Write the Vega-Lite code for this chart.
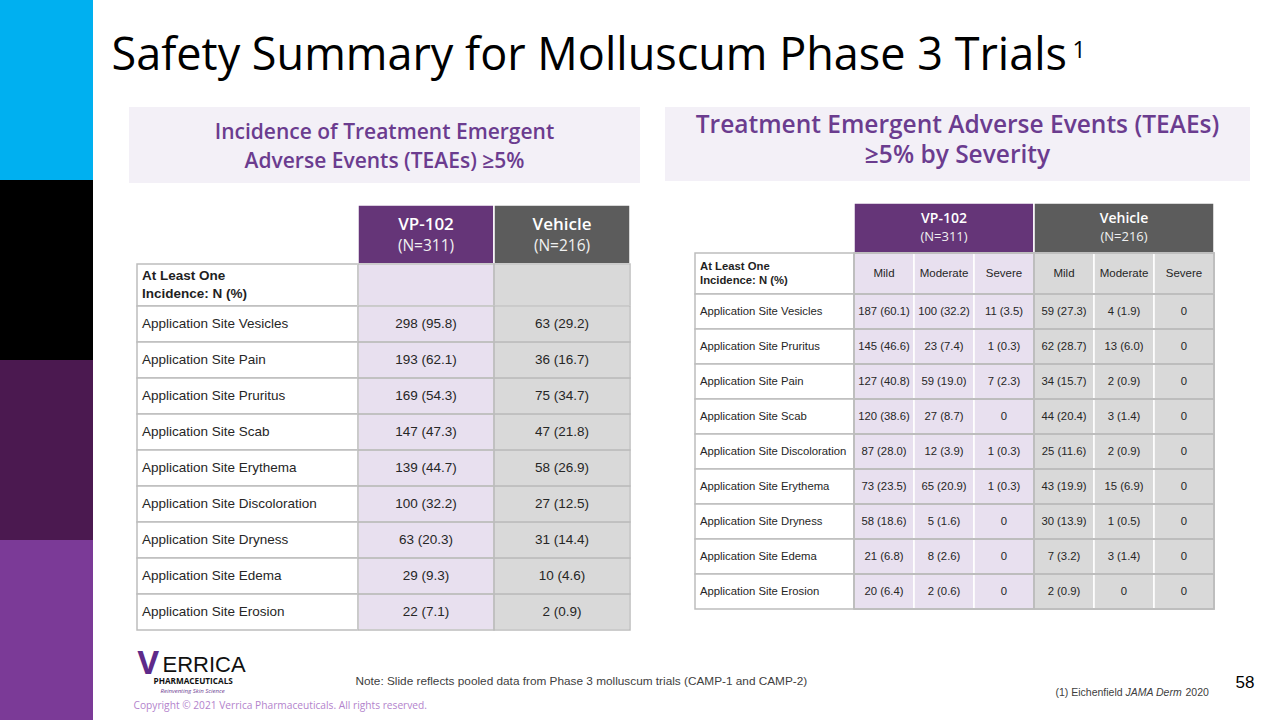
{
 "$schema": "https://vega.github.io/schema/vega-lite/v6.json",
 "width": 1280, "height": 720, "padding": 0, "autosize": {"type": "none"},
 "background": "#ffffff",
 "config": {
  "view": {"stroke": null},
  "axis": {"disable": true},
  "legend": {"disable": true},
  "scale": {"bandPaddingInner": 0, "bandPaddingOuter": 0, "rectBandPaddingInner": 0, "bandWithNestedOffsetPaddingInner": 0, "bandWithNestedOffsetPaddingOuter": 0, "offsetBandPaddingInner": 0, "offsetBandPaddingOuter": 0}
 },
 "datasets": {
  "arms": [{"group": "VP-102", "n": "(N=311)"}, {"group": "Vehicle", "n": "(N=216)"}],
  "incidence": [
   {"event": "Application Site Vesicles", "group": "VP-102", "value": "298 (95.8)"}, {"event": "Application Site Vesicles", "group": "Vehicle", "value": "63 (29.2)"},
   {"event": "Application Site Pain", "group": "VP-102", "value": "193 (62.1)"}, {"event": "Application Site Pain", "group": "Vehicle", "value": "36 (16.7)"},
   {"event": "Application Site Pruritus", "group": "VP-102", "value": "169 (54.3)"}, {"event": "Application Site Pruritus", "group": "Vehicle", "value": "75 (34.7)"},
   {"event": "Application Site Scab", "group": "VP-102", "value": "147 (47.3)"}, {"event": "Application Site Scab", "group": "Vehicle", "value": "47 (21.8)"},
   {"event": "Application Site Erythema", "group": "VP-102", "value": "139 (44.7)"}, {"event": "Application Site Erythema", "group": "Vehicle", "value": "58 (26.9)"},
   {"event": "Application Site Discoloration", "group": "VP-102", "value": "100 (32.2)"}, {"event": "Application Site Discoloration", "group": "Vehicle", "value": "27 (12.5)"},
   {"event": "Application Site Dryness", "group": "VP-102", "value": "63 (20.3)"}, {"event": "Application Site Dryness", "group": "Vehicle", "value": "31 (14.4)"},
   {"event": "Application Site Edema", "group": "VP-102", "value": "29 (9.3)"}, {"event": "Application Site Edema", "group": "Vehicle", "value": "10 (4.6)"},
   {"event": "Application Site Erosion", "group": "VP-102", "value": "22 (7.1)"}, {"event": "Application Site Erosion", "group": "Vehicle", "value": "2 (0.9)"}
  ],
  "severity": [
   {"event": "Application Site Vesicles", "group": "VP-102", "severity": "Mild", "value": "187 (60.1)"},
   {"event": "Application Site Vesicles", "group": "VP-102", "severity": "Moderate", "value": "100 (32.2)"},
   {"event": "Application Site Vesicles", "group": "VP-102", "severity": "Severe", "value": "11 (3.5)"},
   {"event": "Application Site Vesicles", "group": "Vehicle", "severity": "Mild", "value": "59 (27.3)"},
   {"event": "Application Site Vesicles", "group": "Vehicle", "severity": "Moderate", "value": "4 (1.9)"},
   {"event": "Application Site Vesicles", "group": "Vehicle", "severity": "Severe", "value": "0"},
   {"event": "Application Site Pruritus", "group": "VP-102", "severity": "Mild", "value": "145 (46.6)"},
   {"event": "Application Site Pruritus", "group": "VP-102", "severity": "Moderate", "value": "23 (7.4)"},
   {"event": "Application Site Pruritus", "group": "VP-102", "severity": "Severe", "value": "1 (0.3)"},
   {"event": "Application Site Pruritus", "group": "Vehicle", "severity": "Mild", "value": "62 (28.7)"},
   {"event": "Application Site Pruritus", "group": "Vehicle", "severity": "Moderate", "value": "13 (6.0)"},
   {"event": "Application Site Pruritus", "group": "Vehicle", "severity": "Severe", "value": "0"},
   {"event": "Application Site Pain", "group": "VP-102", "severity": "Mild", "value": "127 (40.8)"},
   {"event": "Application Site Pain", "group": "VP-102", "severity": "Moderate", "value": "59 (19.0)"},
   {"event": "Application Site Pain", "group": "VP-102", "severity": "Severe", "value": "7 (2.3)"},
   {"event": "Application Site Pain", "group": "Vehicle", "severity": "Mild", "value": "34 (15.7)"},
   {"event": "Application Site Pain", "group": "Vehicle", "severity": "Moderate", "value": "2 (0.9)"},
   {"event": "Application Site Pain", "group": "Vehicle", "severity": "Severe", "value": "0"},
   {"event": "Application Site Scab", "group": "VP-102", "severity": "Mild", "value": "120 (38.6)"},
   {"event": "Application Site Scab", "group": "VP-102", "severity": "Moderate", "value": "27 (8.7)"},
   {"event": "Application Site Scab", "group": "VP-102", "severity": "Severe", "value": "0"},
   {"event": "Application Site Scab", "group": "Vehicle", "severity": "Mild", "value": "44 (20.4)"},
   {"event": "Application Site Scab", "group": "Vehicle", "severity": "Moderate", "value": "3 (1.4)"},
   {"event": "Application Site Scab", "group": "Vehicle", "severity": "Severe", "value": "0"},
   {"event": "Application Site Discoloration", "group": "VP-102", "severity": "Mild", "value": "87 (28.0)"},
   {"event": "Application Site Discoloration", "group": "VP-102", "severity": "Moderate", "value": "12 (3.9)"},
   {"event": "Application Site Discoloration", "group": "VP-102", "severity": "Severe", "value": "1 (0.3)"},
   {"event": "Application Site Discoloration", "group": "Vehicle", "severity": "Mild", "value": "25 (11.6)"},
   {"event": "Application Site Discoloration", "group": "Vehicle", "severity": "Moderate", "value": "2 (0.9)"},
   {"event": "Application Site Discoloration", "group": "Vehicle", "severity": "Severe", "value": "0"},
   {"event": "Application Site Erythema", "group": "VP-102", "severity": "Mild", "value": "73 (23.5)"},
   {"event": "Application Site Erythema", "group": "VP-102", "severity": "Moderate", "value": "65 (20.9)"},
   {"event": "Application Site Erythema", "group": "VP-102", "severity": "Severe", "value": "1 (0.3)"},
   {"event": "Application Site Erythema", "group": "Vehicle", "severity": "Mild", "value": "43 (19.9)"},
   {"event": "Application Site Erythema", "group": "Vehicle", "severity": "Moderate", "value": "15 (6.9)"},
   {"event": "Application Site Erythema", "group": "Vehicle", "severity": "Severe", "value": "0"},
   {"event": "Application Site Dryness", "group": "VP-102", "severity": "Mild", "value": "58 (18.6)"},
   {"event": "Application Site Dryness", "group": "VP-102", "severity": "Moderate", "value": "5 (1.6)"},
   {"event": "Application Site Dryness", "group": "VP-102", "severity": "Severe", "value": "0"},
   {"event": "Application Site Dryness", "group": "Vehicle", "severity": "Mild", "value": "30 (13.9)"},
   {"event": "Application Site Dryness", "group": "Vehicle", "severity": "Moderate", "value": "1 (0.5)"},
   {"event": "Application Site Dryness", "group": "Vehicle", "severity": "Severe", "value": "0"},
   {"event": "Application Site Edema", "group": "VP-102", "severity": "Mild", "value": "21 (6.8)"},
   {"event": "Application Site Edema", "group": "VP-102", "severity": "Moderate", "value": "8 (2.6)"},
   {"event": "Application Site Edema", "group": "VP-102", "severity": "Severe", "value": "0"},
   {"event": "Application Site Edema", "group": "Vehicle", "severity": "Mild", "value": "7 (3.2)"},
   {"event": "Application Site Edema", "group": "Vehicle", "severity": "Moderate", "value": "3 (1.4)"},
   {"event": "Application Site Edema", "group": "Vehicle", "severity": "Severe", "value": "0"},
   {"event": "Application Site Erosion", "group": "VP-102", "severity": "Mild", "value": "20 (6.4)"},
   {"event": "Application Site Erosion", "group": "VP-102", "severity": "Moderate", "value": "2 (0.6)"},
   {"event": "Application Site Erosion", "group": "VP-102", "severity": "Severe", "value": "0"},
   {"event": "Application Site Erosion", "group": "Vehicle", "severity": "Mild", "value": "2 (0.9)"},
   {"event": "Application Site Erosion", "group": "Vehicle", "severity": "Moderate", "value": "0"},
   {"event": "Application Site Erosion", "group": "Vehicle", "severity": "Severe", "value": "0"}
  ]
 },
 "resolve": {"scale": {"x": "independent", "y": "independent", "color": "independent", "strokeDash": "independent", "xOffset": "independent"}},
 "layer": [
  {
   "data": {"values": [{"strip": "brand", "block": "1"}, {"strip": "brand", "block": "2"}, {"strip": "brand", "block": "3"}, {"strip": "brand", "block": "4"}]},
   "mark": {"type": "rect"},
   "encoding": {
    "x": {"field": "strip", "type": "nominal", "scale": {"range": [0, 93]}},
    "y": {"field": "block", "type": "ordinal", "scale": {"range": [0, 720]}},
    "color": {"field": "block", "type": "ordinal", "scale": {"domain": ["1", "2", "3", "4"], "range": ["#00b0f0", "#000000", "#4b1950", "#7b3a97"]}}
   }
  },
  {
   "data": {"values": [{"title": "Safety Summary for Molluscum Phase 3 Trials"}]},
   "mark": {"type": "text", "align": "left", "baseline": "alphabetic", "font": "Open Sans", "fontSize": 45, "color": "#000000"},
   "encoding": {
    "text": {"field": "title"},
    "x": {"field": "title", "type": "nominal", "bandPosition": 0, "scale": {"range": [111, 112]}},
    "y": {"field": "title", "type": "nominal", "bandPosition": 0, "scale": {"range": [69, 70]}}
   }
  },
  {
   "data": {"values": [{"sup": "1"}]},
   "mark": {"type": "text", "align": "left", "baseline": "alphabetic", "font": "Open Sans", "fontSize": 23, "color": "#000000"},
   "encoding": {
    "text": {"field": "sup"},
    "x": {"field": "sup", "type": "nominal", "bandPosition": 0, "scale": {"range": [1072, 1073]}},
    "y": {"field": "sup", "type": "nominal", "bandPosition": 0, "scale": {"range": [57, 58]}}
   }
  },
  {
   "data": {"values": [{"heading": "Incidence of Treatment Emergent\nAdverse Events (TEAEs) ≥5%"}]},
   "encoding": {
    "x": {"field": "heading", "type": "nominal", "scale": {"range": [129, 640]}},
    "y": {"field": "heading", "type": "nominal", "scale": {"range": [107, 183]}}
   },
   "layer": [
    {"mark": {"type": "rect", "fill": "#f3f0f7"}},
    {"mark": {"type": "text", "lineBreak": "\n", "lineHeight": 29, "align": "center", "baseline": "middle", "dy": -12, "font": "Open Sans", "fontWeight": 600, "fontSize": 21, "color": "#6b3c8f"},
     "encoding": {"text": {"field": "heading"}, "x": {"field": "heading", "type": "nominal", "bandPosition": 0.5}, "y": {"field": "heading", "type": "nominal", "bandPosition": 0.5}}}
   ]
  },
  {
   "data": {"values": [{"heading": "Treatment Emergent Adverse Events (TEAEs)\n≥5% by Severity"}]},
   "encoding": {
    "x": {"field": "heading", "type": "nominal", "scale": {"range": [665, 1250]}},
    "y": {"field": "heading", "type": "nominal", "scale": {"range": [107, 181]}}
   },
   "layer": [
    {"mark": {"type": "rect", "fill": "#f3f0f7"}},
    {"mark": {"type": "text", "lineBreak": "\n", "lineHeight": 30, "align": "center", "baseline": "middle", "dy": -18, "font": "Open Sans", "fontWeight": 600, "fontSize": 24.5, "color": "#6b3c8f"},
     "encoding": {"text": {"field": "heading"}, "x": {"field": "heading", "type": "nominal", "bandPosition": 0.5}, "y": {"field": "heading", "type": "nominal", "bandPosition": 0.5}}}
   ]
  },
  {
   "data": {"name": "arms"},
   "encoding": {
    "x": {"field": "group", "type": "nominal", "scale": {"domain": ["VP-102", "Vehicle"], "range": [358, 630]}},
    "y": {"datum": "arm", "type": "nominal", "scale": {"range": [205, 264]}}
   },
   "layer": [
    {"mark": {"type": "rect", "stroke": "#ffffff", "strokeWidth": 1.5},
     "encoding": {"color": {"field": "group", "type": "nominal", "scale": {"domain": ["VP-102", "Vehicle"], "range": ["#653578", "#5c5c5c"]}}}},
    {"mark": {"type": "text", "dy": -10, "font": "Open Sans", "fontWeight": 600, "fontSize": 17, "color": "#ffffff"},
     "encoding": {"text": {"field": "group"}, "x": {"field": "group", "type": "nominal", "bandPosition": 0.5}, "y": {"datum": "arm", "type": "nominal", "bandPosition": 0.5}}},
    {"mark": {"type": "text", "dy": 11, "font": "Open Sans", "fontSize": 15.5, "color": "#f0f0f0"},
     "encoding": {"text": {"field": "n"}, "x": {"field": "group", "type": "nominal", "bandPosition": 0.5}, "y": {"datum": "arm", "type": "nominal", "bandPosition": 0.5}}}
   ]
  },
  {
   "data": {"values": [{"label": "At Least One\nIncidence: N (%)"}]},
   "encoding": {
    "x": {"field": "label", "type": "nominal", "scale": {"range": [137, 358]}},
    "y": {"field": "label", "type": "nominal", "scale": {"range": [264, 306]}}
   },
   "layer": [
    {"mark": {"type": "rect", "fill": "#ffffff", "stroke": "#bdbdbd", "strokeWidth": 1.5}},
    {"mark": {"type": "text", "align": "left", "baseline": "middle", "dx": 5, "dy": -9, "lineBreak": "\n", "lineHeight": 18, "font": "Liberation Sans, Arial, sans-serif", "fontWeight": "bold", "fontSize": 13.5, "color": "#1f1f1f"},
     "encoding": {"text": {"field": "label"}, "x": {"field": "label", "type": "nominal", "bandPosition": 0}, "y": {"field": "label", "type": "nominal", "bandPosition": 0.5}}}
   ]
  },
  {
   "data": {"name": "arms"},
   "encoding": {
    "x": {"field": "group", "type": "nominal", "scale": {"domain": ["VP-102", "Vehicle"], "range": [358, 630]}},
    "y": {"datum": "atleast", "type": "nominal", "scale": {"range": [264, 306]}}
   },
   "layer": [
    {"mark": {"type": "rect", "stroke": "#ffffff", "strokeWidth": 1.5},
     "encoding": {"color": {"field": "group", "type": "nominal", "scale": {"domain": ["VP-102", "Vehicle"], "range": ["#e8e0ef", "#d9d9d9"]}}}},
    {"mark": {"type": "rect", "filled": false, "stroke": "#bdbdbd", "strokeWidth": 1.5},
     "encoding": {"strokeDash": {"field": "group", "type": "nominal", "scale": {"domain": ["VP-102", "Vehicle"], "range": [[136, 42], [314, 42]]}}}}
   ]
  },
  {
   "data": {"name": "incidence"},
   "transform": [{"filter": "datum.group === 'VP-102'"}],
   "encoding": {
    "x": {"datum": "label", "type": "nominal", "scale": {"range": [137, 358]}},
    "y": {"field": "event", "type": "nominal", "sort": null, "scale": {"domain": ["Application Site Vesicles", "Application Site Pain", "Application Site Pruritus", "Application Site Scab", "Application Site Erythema", "Application Site Discoloration", "Application Site Dryness", "Application Site Edema", "Application Site Erosion"], "range": [306, 630]}}
   },
   "layer": [
    {"mark": {"type": "rect", "fill": "#ffffff", "stroke": "#bdbdbd", "strokeWidth": 1.5}},
    {"mark": {"type": "text", "align": "left", "baseline": "middle", "dx": 5, "font": "Liberation Sans, Arial, sans-serif", "fontSize": 13.5, "color": "#262626"},
     "encoding": {"text": {"field": "event"}, "x": {"datum": "label", "type": "nominal", "bandPosition": 0}, "y": {"field": "event", "type": "nominal", "bandPosition": 0.5}}}
   ]
  },
  {
   "data": {"name": "incidence"},
   "encoding": {
    "x": {"field": "group", "type": "nominal", "scale": {"domain": ["VP-102", "Vehicle"], "range": [358, 630]}},
    "y": {"field": "event", "type": "nominal", "sort": null, "scale": {"domain": ["Application Site Vesicles", "Application Site Pain", "Application Site Pruritus", "Application Site Scab", "Application Site Erythema", "Application Site Discoloration", "Application Site Dryness", "Application Site Edema", "Application Site Erosion"], "range": [306, 630]}}
   },
   "layer": [
    {"mark": {"type": "rect", "stroke": "#ffffff", "strokeWidth": 1.5},
     "encoding": {"color": {"field": "group", "type": "nominal", "scale": {"domain": ["VP-102", "Vehicle"], "range": ["#e8e0ef", "#d9d9d9"]}}}},
    {"mark": {"type": "rect", "filled": false, "stroke": "#bdbdbd", "strokeWidth": 1.5},
     "encoding": {"strokeDash": {"field": "group", "type": "nominal", "scale": {"domain": ["VP-102", "Vehicle"], "range": [[136, 36], [308, 36]]}}}},
    {"mark": {"type": "text", "align": "center", "baseline": "middle", "font": "Liberation Sans, Arial, sans-serif", "fontSize": 13.5, "color": "#262626"},
     "encoding": {"text": {"field": "value"}, "x": {"field": "group", "type": "nominal", "bandPosition": 0.5}, "y": {"field": "event", "type": "nominal", "bandPosition": 0.5}}}
   ]
  },
  {
   "data": {"name": "arms"},
   "encoding": {
    "x": {"field": "group", "type": "nominal", "scale": {"domain": ["VP-102", "Vehicle"], "range": [854, 1214]}},
    "y": {"datum": "arm", "type": "nominal", "scale": {"range": [203, 253]}}
   },
   "layer": [
    {"mark": {"type": "rect", "stroke": "#ffffff", "strokeWidth": 1.5},
     "encoding": {"color": {"field": "group", "type": "nominal", "scale": {"domain": ["VP-102", "Vehicle"], "range": ["#653578", "#5c5c5c"]}}}},
    {"mark": {"type": "text", "dy": -9, "font": "Open Sans", "fontWeight": 600, "fontSize": 14, "color": "#ffffff"},
     "encoding": {"text": {"field": "group"}, "x": {"field": "group", "type": "nominal", "bandPosition": 0.5}, "y": {"datum": "arm", "type": "nominal", "bandPosition": 0.5}}},
    {"mark": {"type": "text", "dy": 9, "font": "Open Sans", "fontSize": 13, "color": "#f0f0f0"},
     "encoding": {"text": {"field": "n"}, "x": {"field": "group", "type": "nominal", "bandPosition": 0.5}, "y": {"datum": "arm", "type": "nominal", "bandPosition": 0.5}}}
   ]
  },
  {
   "data": {"values": [{"label": "At Least One\nIncidence: N (%)"}]},
   "encoding": {
    "x": {"field": "label", "type": "nominal", "scale": {"range": [695, 854]}},
    "y": {"field": "label", "type": "nominal", "scale": {"range": [253, 294]}}
   },
   "layer": [
    {"mark": {"type": "rect", "fill": "#ffffff", "stroke": "#bdbdbd", "strokeWidth": 1.5}},
    {"mark": {"type": "text", "align": "left", "baseline": "middle", "dx": 5, "dy": -7, "lineBreak": "\n", "lineHeight": 14, "font": "Liberation Sans, Arial, sans-serif", "fontWeight": "bold", "fontSize": 11.3, "color": "#1f1f1f"},
     "encoding": {"text": {"field": "label"}, "x": {"field": "label", "type": "nominal", "bandPosition": 0}, "y": {"field": "label", "type": "nominal", "bandPosition": 0.5}}}
   ]
  },
  {
   "data": {"name": "severity"},
   "transform": [{"filter": "datum.event === 'Application Site Vesicles'"}],
   "encoding": {
    "x": {"field": "group", "type": "nominal", "scale": {"domain": ["VP-102", "Vehicle"], "range": [854, 1214]}},
    "y": {"datum": "severity", "type": "nominal", "scale": {"range": [253, 294]}}
   },
   "layer": [
    {"mark": {"type": "rect", "stroke": "#ffffff", "strokeWidth": 1.5},
     "encoding": {"xOffset": {"field": "severity", "type": "nominal", "scale": {"domain": ["Mild", "Moderate", "Severe"]}}, "color": {"field": "group", "type": "nominal", "scale": {"domain": ["VP-102", "Vehicle"], "range": ["#e8e0ef", "#d9d9d9"]}}}},
    {"mark": {"type": "rect", "filled": false, "stroke": "#bdbdbd", "strokeWidth": 1.5},
     "encoding": {"strokeDash": {"field": "group", "type": "nominal", "scale": {"domain": ["VP-102", "Vehicle"], "range": [[180, 41], [401, 41]]}}}},
    {"mark": {"type": "text", "align": "center", "baseline": "middle", "font": "Liberation Sans, Arial, sans-serif", "fontSize": 11.5, "color": "#262626"},
     "encoding": {"text": {"field": "severity"}, "x": {"field": "group", "type": "nominal", "bandPosition": 0.5}, "xOffset": {"field": "severity", "type": "nominal", "bandPosition": 0.5}, "y": {"datum": "severity", "type": "nominal", "bandPosition": 0.5}}}
   ]
  },
  {
   "data": {"name": "severity"},
   "transform": [{"filter": "datum.group === 'VP-102' && datum.severity === 'Mild'"}],
   "encoding": {
    "x": {"datum": "label", "type": "nominal", "scale": {"range": [695, 854]}},
    "y": {"field": "event", "type": "nominal", "sort": null, "scale": {"domain": ["Application Site Vesicles", "Application Site Pruritus", "Application Site Pain", "Application Site Scab", "Application Site Discoloration", "Application Site Erythema", "Application Site Dryness", "Application Site Edema", "Application Site Erosion"], "range": [294, 609]}}
   },
   "layer": [
    {"mark": {"type": "rect", "fill": "#ffffff", "stroke": "#bdbdbd", "strokeWidth": 1.5}},
    {"mark": {"type": "text", "align": "left", "baseline": "middle", "dx": 5, "font": "Liberation Sans, Arial, sans-serif", "fontSize": 11.3, "color": "#262626"},
     "encoding": {"text": {"field": "event"}, "x": {"datum": "label", "type": "nominal", "bandPosition": 0}, "y": {"field": "event", "type": "nominal", "bandPosition": 0.5}}}
   ]
  },
  {
   "data": {"name": "severity"},
   "encoding": {
    "x": {"field": "group", "type": "nominal", "scale": {"domain": ["VP-102", "Vehicle"], "range": [854, 1214]}},
    "y": {"field": "event", "type": "nominal", "sort": null, "scale": {"domain": ["Application Site Vesicles", "Application Site Pruritus", "Application Site Pain", "Application Site Scab", "Application Site Discoloration", "Application Site Erythema", "Application Site Dryness", "Application Site Edema", "Application Site Erosion"], "range": [294, 609]}}
   },
   "layer": [
    {"mark": {"type": "rect", "stroke": "#ffffff", "strokeWidth": 1.5},
     "encoding": {"xOffset": {"field": "severity", "type": "nominal", "scale": {"domain": ["Mild", "Moderate", "Severe"]}}, "color": {"field": "group", "type": "nominal", "scale": {"domain": ["VP-102", "Vehicle"], "range": ["#e8e0ef", "#d9d9d9"]}}}},
    {"mark": {"type": "rect", "filled": false, "stroke": "#bdbdbd", "strokeWidth": 1.5},
     "encoding": {"strokeDash": {"field": "group", "type": "nominal", "scale": {"domain": ["VP-102", "Vehicle"], "range": [[180, 35], [395, 35]]}}}},
    {"mark": {"type": "text", "align": "center", "baseline": "middle", "font": "Liberation Sans, Arial, sans-serif", "fontSize": 11.3, "color": "#262626"},
     "encoding": {"text": {"field": "value"}, "x": {"field": "group", "type": "nominal", "bandPosition": 0.5}, "xOffset": {"field": "severity", "type": "nominal", "bandPosition": 0.5}, "y": {"field": "event", "type": "nominal", "bandPosition": 0.5}}}
   ]
  },
  {
   "data": {"values": [{"note": "Note: Slide reflects pooled data from Phase 3 molluscum trials (CAMP-1 and CAMP-2)"}]},
   "mark": {"type": "text", "align": "left", "baseline": "middle", "font": "Liberation Sans, Arial, sans-serif", "fontSize": 11.8, "color": "#404040"},
   "encoding": {
    "text": {"field": "note"},
    "x": {"field": "note", "type": "nominal", "bandPosition": 0, "scale": {"range": [355, 356]}},
    "y": {"field": "note", "type": "nominal", "bandPosition": 0, "scale": {"range": [680, 681]}}
   }
  },
  {
   "data": {"values": [{"ref": "(1) Eichenfield"}]},
   "mark": {"type": "text", "align": "left", "baseline": "middle", "font": "Liberation Sans, Arial, sans-serif", "fontSize": 10.5, "color": "#404040"},
   "encoding": {
    "text": {"field": "ref"},
    "x": {"field": "ref", "type": "nominal", "bandPosition": 0, "scale": {"range": [1055, 1056]}},
    "y": {"field": "ref", "type": "nominal", "bandPosition": 0, "scale": {"range": [692, 693]}}
   }
  },
  {
   "data": {"values": [{"journal": "JAMA Derm"}]},
   "mark": {"type": "text", "align": "left", "baseline": "middle", "font": "Liberation Sans, Arial, sans-serif", "fontStyle": "italic", "fontSize": 10.5, "color": "#404040"},
   "encoding": {
    "text": {"field": "journal"},
    "x": {"field": "journal", "type": "nominal", "bandPosition": 0, "scale": {"range": [1125, 1126]}},
    "y": {"field": "journal", "type": "nominal", "bandPosition": 0, "scale": {"range": [692, 693]}}
   }
  },
  {
   "data": {"values": [{"year": "2020"}]},
   "mark": {"type": "text", "align": "left", "baseline": "middle", "font": "Liberation Sans, Arial, sans-serif", "fontSize": 10.5, "color": "#404040"},
   "encoding": {
    "text": {"field": "year"},
    "x": {"field": "year", "type": "nominal", "bandPosition": 0, "scale": {"range": [1185, 1186]}},
    "y": {"field": "year", "type": "nominal", "bandPosition": 0, "scale": {"range": [692, 693]}}
   }
  },
  {
   "data": {"values": [{"page": "58"}]},
   "mark": {"type": "text", "align": "left", "baseline": "middle", "font": "Liberation Sans, Arial, sans-serif", "fontSize": 17, "color": "#000000"},
   "encoding": {
    "text": {"field": "page"},
    "x": {"field": "page", "type": "nominal", "bandPosition": 0, "scale": {"range": [1235, 1236]}},
    "y": {"field": "page", "type": "nominal", "bandPosition": 0, "scale": {"range": [682, 683]}}
   }
  },
  {
   "data": {"values": [{"copy": "Copyright © 2021 Verrica Pharmaceuticals. All rights reserved."}]},
   "mark": {"type": "text", "align": "left", "baseline": "middle", "font": "Open Sans", "fontSize": 10.2, "color": "#b383cc"},
   "encoding": {
    "text": {"field": "copy"},
    "x": {"field": "copy", "type": "nominal", "bandPosition": 0, "scale": {"range": [133, 134]}},
    "y": {"field": "copy", "type": "nominal", "bandPosition": 0, "scale": {"range": [705, 706]}}
   }
  },
  {
   "data": {"values": [{"logo": "V"}]},
   "mark": {"type": "text", "align": "left", "baseline": "alphabetic", "font": "Open Sans", "fontWeight": 700, "fontSize": 33, "color": "#5e2a8a"},
   "encoding": {
    "text": {"field": "logo"},
    "x": {"field": "logo", "type": "nominal", "bandPosition": 0, "scale": {"range": [137, 138]}},
    "y": {"field": "logo", "type": "nominal", "bandPosition": 0, "scale": {"range": [673, 674]}}
   }
  },
  {
   "data": {"values": [{"logo": "ERRICA"}]},
   "mark": {"type": "text", "align": "left", "baseline": "alphabetic", "font": "Liberation Sans, Arial, sans-serif", "fontSize": 22, "color": "#111111"},
   "encoding": {
    "text": {"field": "logo"},
    "x": {"field": "logo", "type": "nominal", "bandPosition": 0, "scale": {"range": [162, 163]}},
    "y": {"field": "logo", "type": "nominal", "bandPosition": 0, "scale": {"range": [671, 672]}}
   }
  },
  {
   "data": {"values": [{"logo": "PHARMACEUTICALS"}]},
   "mark": {"type": "text", "align": "left", "baseline": "middle", "font": "Open Sans", "fontWeight": 700, "fontSize": 8.2, "color": "#111111"},
   "encoding": {
    "text": {"field": "logo"},
    "x": {"field": "logo", "type": "nominal", "bandPosition": 0, "scale": {"range": [153, 154]}},
    "y": {"field": "logo", "type": "nominal", "bandPosition": 0, "scale": {"range": [681, 682]}}
   }
  },
  {
   "data": {"values": [{"logo": "Reinventing Skin Science"}]},
   "mark": {"type": "text", "align": "left", "baseline": "middle", "font": "Open Sans", "fontStyle": "italic", "fontSize": 6, "color": "#6b3c8f"},
   "encoding": {
    "text": {"field": "logo"},
    "x": {"field": "logo", "type": "nominal", "bandPosition": 0, "scale": {"range": [160, 161]}},
    "y": {"field": "logo", "type": "nominal", "bandPosition": 0, "scale": {"range": [690, 691]}}
   }
  }
 ]
}
